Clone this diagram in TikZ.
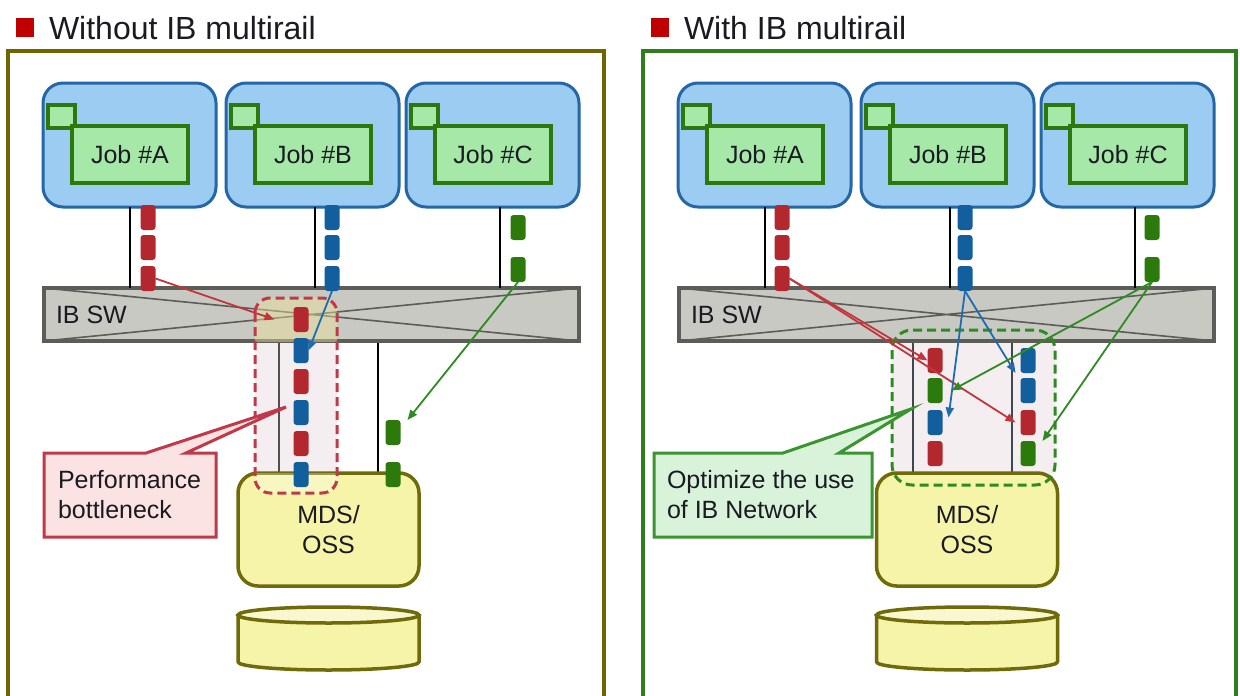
\documentclass[tikz,border=0pt]{standalone}
\usepackage{fontspec}
\setmainfont{Liberation Sans}
\usetikzlibrary{arrows.meta}

\definecolor{jobfill}{HTML}{9DCCF2}
\definecolor{jobline}{HTML}{2466A6}
\definecolor{tabfill}{HTML}{A6E8A8}
\definecolor{tabline}{HTML}{2A780E}
\definecolor{pktred}{HTML}{B3282F}
\definecolor{pktblue}{HTML}{135E9C}
\definecolor{pktgreen}{HTML}{2B7A0B}
\definecolor{swfill}{HTML}{C9C9C3}
\definecolor{swline}{HTML}{5C5C58}
\definecolor{mdsfill}{HTML}{F6F4A8}
\definecolor{mdsline}{HTML}{6F6A0A}
\definecolor{disktop}{HTML}{F8F7CF}
\definecolor{frameolive}{HTML}{6E6400}
\definecolor{framegreen}{HTML}{2E7D1E}
\definecolor{noteredline}{HTML}{C0394A}
\definecolor{noteredfill}{HTML}{FCE3E3}
\definecolor{notegreenline}{HTML}{3A9430}
\definecolor{notegreenfill}{HTML}{D9F3DB}
\definecolor{railfill}{HTML}{F4EEF1}
\definecolor{railline}{HTML}{3E4852}
\definecolor{railgray}{HTML}{505050}
\definecolor{arrred}{HTML}{C0363C}
\definecolor{arrblue}{HTML}{1E6CB0}
\definecolor{arrgreen}{HTML}{2E8B22}
\definecolor{bullet}{HTML}{C00000}
\definecolor{ink}{HTML}{1A1A22}
\definecolor{swtint}{HTML}{ECE29A}

% compute node with folder-like job tab: name, centre x, label
\newcommand\jobbox[3]{%
  \node[jobbg] (#1) at (#2,145) {};
  \draw[tabbox] ([shift={(5,22)}]#1.north west) rectangle ([shift={(32,45)}]#1.north west);
  \draw[tabbox] ([shift={(29,43)}]#1.north west) rectangle ([shift={(145,100)}]#1.north west);
  \node[lbl] (#1t) at ([shift={(87,72)}]#1.north west) {#3};
}
% one data packet: name, x, y, colour
\newcommand\pkt[4]{\node[pktbox, fill=#4] (#1) at (#2,#3) {};}
% disk cylinder: centre x
\newcommand\disk[1]{%
  \filldraw[fill=mdsfill, draw=mdsline, line width=3.5pt, line join=round]
    (#1-90.5,615) -- (#1-90.5,662)
    arc[start angle=180, end angle=360, x radius=90.5pt, y radius=8pt]
    -- (#1+90.5,615) -- cycle;
  \filldraw[fill=disktop, draw=mdsline, line width=3.5pt] (#1,615) ellipse [x radius=90.5pt, y radius=8pt];
}

\begin{document}
\begin{tikzpicture}[x=1pt,y=-1pt,
  every node/.style={inner sep=0pt, outer sep=0pt},
  lbl/.style={font=\fontsize{25}{30}\selectfont, text=ink},
  title/.style={font=\fontsize{32}{38}\selectfont, text=ink, anchor=base west},
  bul/.style={fill=bullet, minimum width=18pt, minimum height=19pt},
  jobbg/.style={draw=jobline, fill=jobfill, line width=3pt, rounded corners=20pt, minimum width=173pt, minimum height=124pt},
  tabbox/.style={draw=tabline, fill=tabfill, line width=4pt},
  pktbox/.style={rectangle, rounded corners=3pt, minimum width=15pt, minimum height=25pt},
  wire/.style={black, line width=2.5pt},
  swbox/.style={draw=swline, fill=swfill, line width=4pt, minimum width=535pt, minimum height=53pt},
  swx/.style={swline, line width=1.6pt},
  mdsbox/.style={draw=mdsline, fill=mdsfill, line width=3.5pt, rounded corners=20pt, minimum width=181pt, minimum height=113pt, align=center, font=\fontsize{25}{30}\selectfont, text=ink},
  tip/.style={-{Triangle[length=10pt,width=8pt]}},
  arrR/.style={arrred, line width=1.8pt, tip},
  arrB/.style={arrblue, line width=1.8pt, tip},
  arrG/.style={arrgreen, line width=1.8pt, tip},
  zone/.style={line width=3pt, dash pattern=on 9pt off 5pt},
  note/.style={line width=3pt, line join=miter}
]
\useasboundingbox (0,0) rectangle (1240,696);

%================ left panel: without multirail ================
\draw[frameolive, line width=4pt] (8,51) rectangle (604,712);
\node[bul] (Lbul) at (24.5,27.5) {};
\node[title] (Ltitle) at (49,39) {Without IB multirail};

% shared rail area behind switch and server
\fill[railfill, rounded corners=15pt] (255,298) rectangle (337,493);
\coordinate (Lr1a) at (279,342); \coordinate (Lr1b) at (279,474);
\coordinate (Lr2a) at (378,342); \coordinate (Lr2b) at (378,475);
\draw[railgray, line width=2pt] (Lr1a) -- (Lr1b);
\draw[wire] (Lr2a) -- (Lr2b);

% InfiniBand switch
\node[swbox] (Lsw) at (311.5,314.5) {};
\draw[swx] (Lsw.north west) -- (Lsw.south east) (Lsw.south west) -- (Lsw.north east);
\draw[swline, line width=4pt] (Lsw.north west) rectangle (Lsw.south east);
\node[lbl, anchor=west] (Lswt) at ([xshift=12pt]Lsw.west) {IB SW};

% server and storage
\node[mdsbox] (Lmds) at (328.5,529.5) {MDS/\\OSS};
\disk{328.5}

\begin{scope}
  \clip (Lsw.north west) rectangle (Lsw.south east);
  \fill[swtint, opacity=0.45, rounded corners=15pt] (255,298) rectangle (337,493);
\end{scope}
\begin{scope}
  \clip (Lmds.north west) rectangle (Lmds.south east);
  \fill[white, opacity=0.3, rounded corners=15pt] (255,298) rectangle (337,493);
\end{scope}
\draw[zone, noteredline, rounded corners=15pt] (255,298) rectangle (337,493);

% compute nodes
\jobbox{LjA}{129.5}{Job \#A}
\jobbox{LjB}{312.5}{Job \#B}
\jobbox{LjC}{492.5}{Job \#C}
\draw[wire] ([xshift=0.5pt]LjA.south) -- ([xshift=0.5pt]LjA.south |- Lsw.north);
\draw[wire] ([xshift=2.5pt]LjB.south) -- ([xshift=2.5pt]LjB.south |- Lsw.north);
\draw[wire] ([xshift=7.5pt]LjC.south) -- ([xshift=7.5pt]LjC.south |- Lsw.north);

% packets
\pkt{LA1}{148}{217.5}{pktred}
\pkt{LA2}{148}{247.5}{pktred}
\pkt{LA3}{148}{278.5}{pktred}
\pkt{LB1}{332}{217.5}{pktblue}
\pkt{LB2}{332}{247.5}{pktblue}
\pkt{LB3}{332}{278.5}{pktblue}
\pkt{LC1}{518}{227.5}{pktgreen}
\pkt{LC2}{518}{269.5}{pktgreen}
\pkt{Lc1}{301}{319.5}{pktred}
\pkt{Lc2}{301}{350.5}{pktblue}
\pkt{Lc3}{301}{381.5}{pktred}
\pkt{Lc4}{301}{412.5}{pktblue}
\pkt{Lc5}{301}{443.5}{pktred}
\pkt{Lc6}{301}{474.5}{pktblue}
\pkt{Lg1}{393}{432.5}{pktgreen}
\pkt{Lg2}{393}{474.5}{pktgreen}

% traffic
\draw[arrR] (LA3.east) -- ([xshift=-19pt]Lc1.west);
\draw[arrB] (LB3.south) -- (Lc2.east);
\draw[arrG] (LC2.south) -- ([xshift=7pt]Lg1.north east);

% annotation
\filldraw[note, draw=noteredline, fill=noteredfill] (44,453) -- (146,453) -- (286,407) -- (186,453) -- (216,453) -- (216,537) -- (44,537) -- cycle;
\node[lbl, anchor=west, align=left] (Lnote) at (58,495) {Performance\\bottleneck};

%================ right panel: with multirail ================
\draw[framegreen, line width=4pt] (643,51) rectangle (1236,712);
\node[bul] (Rbul) at (659.5,27.5) {};
\node[title] (Rtitle) at (684,39) {With IB multirail};

\fill[railfill, rounded corners=20pt] (892,330) rectangle (1055,485);
\coordinate (Rr1a) at (913,342); \coordinate (Rr1b) at (913,474);
\coordinate (Rr2a) at (1012,342); \coordinate (Rr2b) at (1012,474);
\draw[railline, line width=2.5pt] (Rr1a) -- (Rr1b);
\draw[railline, line width=2.5pt] (Rr2a) -- (Rr2b);

\node[swbox] (Rsw) at (946.5,314.5) {};
\draw[swx] (Rsw.north west) -- (Rsw.south east) (Rsw.south west) -- (Rsw.north east);
\draw[swline, line width=4pt] (Rsw.north west) rectangle (Rsw.south east);
\node[lbl, anchor=west] (Rswt) at ([xshift=12pt]Rsw.west) {IB SW};

\node[mdsbox] (Rmds) at (967,529.5) {MDS/\\OSS};
\disk{967}

\draw[zone, arrgreen, rounded corners=20pt] (892,330) rectangle (1055,485);

\jobbox{RjA}{764.5}{Job \#A}
\jobbox{RjB}{947.5}{Job \#B}
\jobbox{RjC}{1127.5}{Job \#C}
\draw[wire] ([xshift=0.5pt]RjA.south) -- ([xshift=0.5pt]RjA.south |- Rsw.north);
\draw[wire] ([xshift=2.5pt]RjB.south) -- ([xshift=2.5pt]RjB.south |- Rsw.north);
\draw[wire] ([xshift=7.5pt]RjC.south) -- ([xshift=7.5pt]RjC.south |- Rsw.north);

\pkt{RA1}{782}{217.5}{pktred}
\pkt{RA2}{782}{247.5}{pktred}
\pkt{RA3}{782}{278.5}{pktred}
\pkt{RB1}{965}{217.5}{pktblue}
\pkt{RB2}{965}{247.5}{pktblue}
\pkt{RB3}{965}{278.5}{pktblue}
\pkt{RC1}{1152}{227.5}{pktgreen}
\pkt{RC2}{1152}{269.5}{pktgreen}
\pkt{Rl1}{935}{360.5}{pktred}
\pkt{Rl2}{935}{390.5}{pktgreen}
\pkt{Rl3}{935}{422.5}{pktblue}
\pkt{Rl4}{935}{453.5}{pktred}
\pkt{Rr1}{1028}{360.5}{pktblue}
\pkt{Rr2}{1028}{390.5}{pktblue}
\pkt{Rr3}{1028}{422.5}{pktred}
\pkt{Rr4}{1028}{453.5}{pktgreen}

\draw[arrR] (RA3.east) -- (Rl1.west);
\draw[arrR] (RA3.east) -- ([xshift=-5pt]Rr3.west);
\draw[arrB] (RB3.south) -- ([shift={(6,-5)}]Rl3.east);
\draw[arrB] (RB3.south) -- ([xshift=-5pt]Rr1.south west);
\draw[arrG] (RC2.south) -- ([xshift=9pt]Rl2.east);
\draw[arrG] (RC2.south) -- ([xshift=7pt]Rr4.north east);

\filldraw[note, draw=notegreenline, fill=notegreenfill] (654,453) -- (783,453) -- (911,409) -- (839,453) -- (872,453) -- (872,537) -- (654,537) -- cycle;
\node[lbl, anchor=west, align=left] (Rnote) at (667,495) {Optimize the use\\of IB Network};
\end{tikzpicture}
\end{document}
